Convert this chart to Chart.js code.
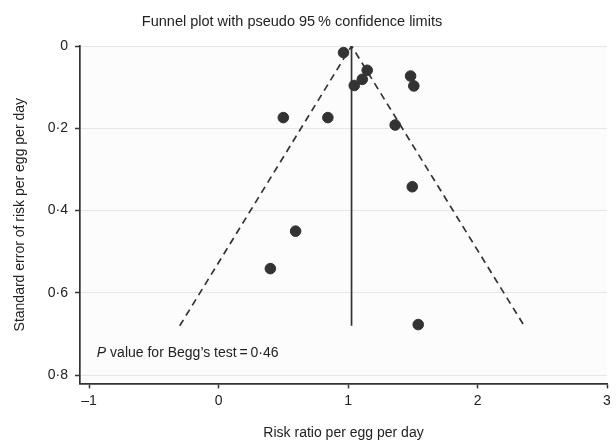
<!DOCTYPE html>
<html>
<head>
<meta charset="utf-8">
<script src="https://cdn.jsdelivr.net/npm/chart.js@4.4.0/dist/chart.umd.min.js"></script>
<style>
  html, body { margin: 0; padding: 0; background: #fff; }
  #wrap { width: 616px; height: 443px; }
</style>
</head>
<body>
<div id="wrap"><canvas id="funnel"></canvas></div>
<script>
// 연구별 위험비 / 표준오차
let studyRR = [0.965, 0.50, 0.844, 1.048, 1.11, 1.148, 1.483, 1.508, 1.364, 1.496, 0.595, 0.40, 1.542];
let studySE = [0.016, 0.174, 0.174, 0.096, 0.081, 0.059, 0.073, 0.097, 0.192, 0.342, 0.45, 0.541, 0.677];

// 95% 신뢰한계 (깔때기)
let funnelX = [-0.30, 1.027, 2.36];
let funnelY = [0.68, 0, 0.68];

// 요약 추정치 수직선
let pooledX = [1.027, 1.027];
let pooledY = [0, 0.68];

let xTicks = [-1, 0, 1, 2, 3];
let yTicks = [0, 0.2, 0.4, 0.6, 0.8];

let ink = '#333333';
let fam = '"Liberation Sans", Arial, sans-serif';

function toPairs(xs, ys) {
    let out = [];
    for (let i = 0; i < xs.length; i++) {
        out.push({ x: xs[i], y: ys[i] });
    }
    return out;
}

function fmt(v) {
    return String(v).replace('.', '·').replace('-', '–');
}

// 제목 + 베그 검정 주석
let textLayer = {
    id: 'textLayer',
    afterDatasetsDraw: function (chart) {
        let ctx = chart.ctx;
        ctx.save();
        ctx.fillStyle = '#222';
        ctx.textAlign = 'center';
        ctx.textBaseline = 'middle';
        ctx.font = '14.5px ' + fam;
        ctx.fillText('Funnel plot with pseudo 95\u2009% confidence limits', 292, 22);

        let x = chart.scales.x.getPixelForValue(-0.94);
        let y = chart.scales.y.getPixelForValue(0.757);
        ctx.textBaseline = 'alphabetic';
        ctx.textAlign = 'left';
        ctx.font = 'italic 14px ' + fam;
        ctx.fillText('P', x, y);
        let w = ctx.measureText('P ').width;
        ctx.font = '14px ' + fam;
        ctx.fillText('value for Begg\u2019s test\u2009=\u20090·46', x + w, y);
        ctx.restore();
    }
};

let plotBg = {
    id: 'plotBg',
    beforeDraw: function (chart) {
        let a = chart.chartArea;
        chart.ctx.save();
        chart.ctx.fillStyle = '#fcfcfc';
        chart.ctx.fillRect(a.left, a.top, a.right - a.left, a.bottom - a.top);
        chart.ctx.restore();
    }
};

let data = {
    datasets: [{
        type: 'scatter',
        label: 'studies',
        data: toPairs(studyRR, studySE),
        backgroundColor: ink,
        borderColor: ink,
        pointRadius: 5.3,
        pointHoverRadius: 5.3
    }, {
        type: 'line',
        label: 'limits',
        data: toPairs(funnelX, funnelY),
        borderColor: ink,
        borderWidth: 1.7,
        borderDash: [7, 5],
        pointRadius: 0,
        fill: false,
        tension: 0
    }, {
        type: 'line',
        label: 'pooled',
        data: toPairs(pooledX, pooledY),
        borderColor: ink,
        borderWidth: 1.7,
        pointRadius: 0,
        fill: false
    }]
};

let options = {
    responsive: false,
    animation: false,
    layout: { padding: { left: 12, right: 9, top: 46, bottom: 1 } },
    plugins: {
        legend: { display: false },
        tooltip: { enabled: false },
        title: { display: false }
    },
    scales: {
        x: {
            type: 'linear',
            min: -1.07,
            max: 3,
            afterBuildTicks: function (axis) {
                axis.ticks = xTicks.map(function (v) { return { value: v }; });
            },
            ticks: {
                color: '#222',
                font: { family: fam, size: 14 },
                padding: 4,
                callback: function (v) { return fmt(v); }
            },
            grid: {
                drawOnChartArea: false,
                tickLength: 5,
                tickColor: ink,
                tickWidth: 1.5
            },
            border: { color: ink, width: 1.7 },
            title: {
                display: true,
                text: 'Risk ratio per egg per day',
                color: '#222',
                font: { family: fam, size: 14 },
                padding: { top: 12, bottom: 0 }
            }
        },
        y: {
            type: 'linear',
            reverse: true,
            min: 0,
            max: 0.82,
            afterBuildTicks: function (axis) {
                axis.ticks = yTicks.map(function (v) { return { value: v }; });
            },
            ticks: {
                color: '#222',
                font: { family: fam, size: 14 },
                padding: 7,
                callback: function (v) { return fmt(v); }
            },
            grid: {
                color: '#e6e6e6',
                lineWidth: 1,
                tickLength: 5,
                tickColor: ink,
                tickWidth: 1.5
            },
            border: { color: ink, width: 1.7 },
            title: {
                display: true,
                text: 'Standard error of risk per egg per day',
                color: '#222',
                font: { family: fam, size: 14 },
                padding: { top: 0, bottom: 12 }
            }
        }
    }
};

let canvas = document.getElementById('funnel');
canvas.width = 616;
canvas.height = 443;
let funnelChart = new Chart(canvas.getContext('2d'), {
    type: 'scatter',
    data: data,
    options: options,
    plugins: [plotBg, textLayer]
});
</script>
</body>
</html>
